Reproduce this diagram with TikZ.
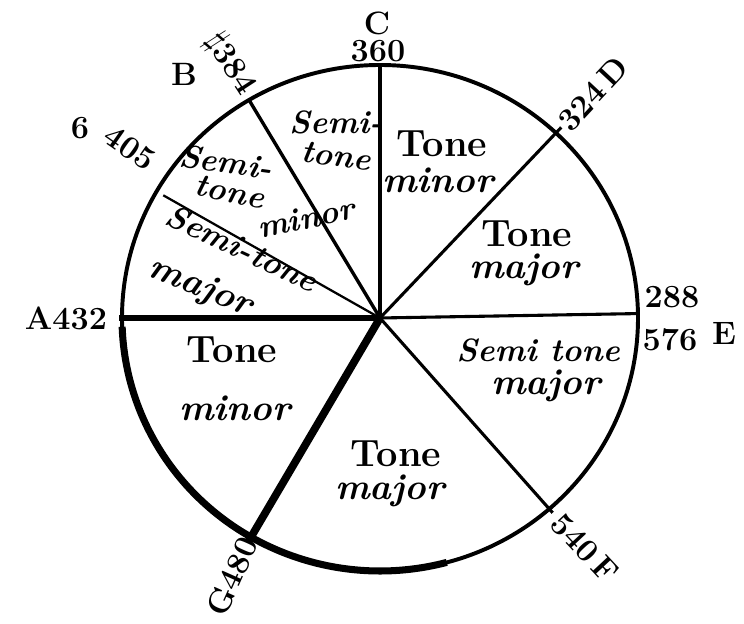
\documentclass[tikz,border=0pt]{standalone}
\usepackage{amssymb}
\usepackage{tikz}
\begin{document}
\begin{tikzpicture}[x=0.025cm,y=0.025cm,
  tone/.style={font=\fontsize{27}{29}\selectfont\bfseries,inner sep=0pt},
  kind/.style={font=\fontsize{26}{28}\selectfont\bfseries\itshape,inner sep=0pt},
  semi/.style={font=\fontsize{23}{25}\selectfont\bfseries\itshape,inner sep=0pt},
  note/.style={font=\fontsize{23}{25}\selectfont\bfseries,inner sep=0pt},
  rim/.style={line width=2.8pt},
  spoke/.style={line width=2.2pt}]
  \useasboundingbox (0,0) rectangle (744,624);
  \coordinate (o) at (380,306);
  \foreach \n/\a/\r in {c/90/1,d/47/1.03,e/1/1,f/-49/1.02,g/-120/1.02,a/180/1.01,bb/150/0.97,bn/120.5/1}
    \coordinate (\n) at ([shift={(\a:{258*\r} and {253*\r})}]o);
  % rim, heavier on the lower left
  \draw[rim] (o) ellipse (258 and 253);
  \draw[line width=5pt] ([shift={(182:258 and 253)}]o) arc[start angle=182,end angle=285,x radius=258,y radius=253];
  % spokes
  \draw[spoke,line width=3pt] (o) -- (c);
  \draw[spoke] (o) -- (d);
  \draw[spoke] (o) -- (e);
  \draw[spoke] (o) -- (f);
  \draw[spoke,line width=5.5pt] (o) -- (g);
  \draw[spoke,line width=3.6pt] (o) -- (a);
  \draw[spoke,line width=1.6pt] (o) -- (bb);
  \draw[spoke,line width=2.4pt] (o) -- (bn);
  % notes
  \node[note] (nc) at (377,601) {C};
  \node[note] (lc) at (378,573) {360};
  \node[note,rotate=47] (nd) at (593,530) {324\,D};
  \node[note] (le) at (672,327) {288};
  \node[note] (le2) at (670,284) {576};
  \node[note] (ne) at (724,291) {E};
  \node[note,rotate=-47] (nf) at (585,76) {540\,F};
  \node[note,rotate=66,anchor=east] (ng) at (249,86) {G480};
  \node[note] (na) at (66,306) {A432};
  \node[note,rotate=-35] (lbb) at (130,476) {405};
  \node[note] (nbb) at (80,496) {6};
  \node[note] (nbn) at (184,550) {B};
  \node[note,rotate=-57] (lbn) at (230,560) {$\sharp$384};
  % intervals
  \node[tone] (t1) at (442,480) {Tone};
  \node[kind] (k1) at (438,444) {minor};
  \node[tone] (t2) at (527,390) {Tone};
  \node[kind] (k2) at (524,354) {major};
  \node[semi] (t3) at (538,274) {Semi tone};
  \node[kind] (k3) at (546,238) {major};
  \node[tone] (t4) at (396,170) {Tone};
  \node[kind] (k4) at (390,133) {major};
  \node[tone] (t5) at (232,274) {Tone};
  \node[kind] (k5) at (235,216) {minor};
  \node[semi,rotate=-25] (t6) at (242,376) {Semi-tone};
  \node[kind,rotate=-22] (k6) at (200,336) {major};
  \node[semi,rotate=-8] (t7) at (226,462) {Semi-};
  \node[semi,rotate=-12] (t7b) at (230,432) {tone};
  \node[semi,rotate=12] (k7) at (306,406) {minor};
  \node[semi] (t8) at (336,502) {Semi-};
  \node[semi,rotate=-8] (t8b) at (336,468) {tone};
\end{tikzpicture}
\end{document}
